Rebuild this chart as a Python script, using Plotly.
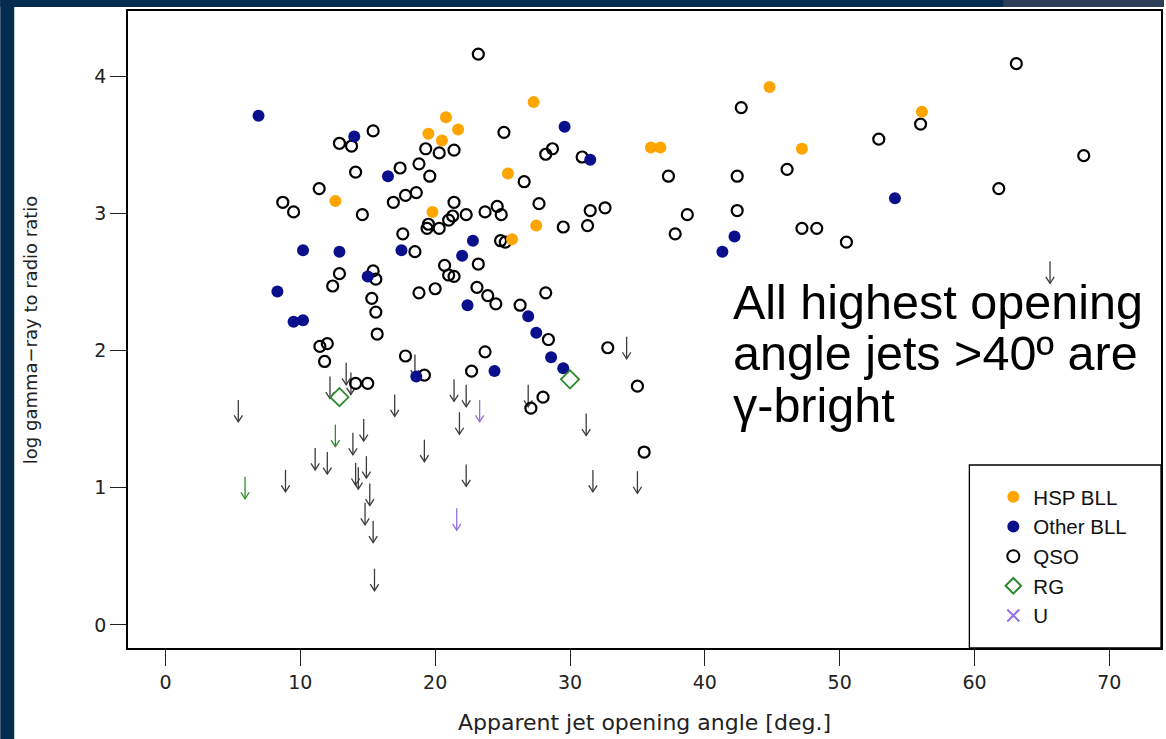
import plotly.graph_objects as go

# ---- HSP BL Lacs (filled orange) ----
hsp_x = [20.8, 19.5, 20.5, 21.7, 12.6, 19.8, 27.3, 25.4, 27.5, 25.7, 36.0, 36.7, 44.8, 47.2, 56.1]
hsp_y = [3.70, 3.58, 3.53, 3.61, 3.09, 3.01, 3.81, 3.29, 2.91, 2.81, 3.48, 3.48, 3.92, 3.47, 3.74]

# ---- other BL Lacs (filled navy) ----
bll_x = [6.9, 14.0, 16.5, 10.2, 12.9, 17.5, 22.0, 15.0, 8.3, 9.5, 10.2, 18.6, 29.6, 31.5,
         22.8, 22.4, 26.9, 27.5, 28.6, 29.5, 24.4, 41.3, 42.2, 54.1]
bll_y = [3.71, 3.56, 3.27, 2.73, 2.72, 2.73, 2.69, 2.54, 2.43, 2.21, 2.22, 1.81, 3.63, 3.39,
         2.80, 2.33, 2.25, 2.13, 1.95, 1.87, 1.85, 2.72, 2.83, 3.11]

# ---- quasars (open black circles) ----
qso_x = [15.4, 12.9, 13.8, 19.3, 20.3, 21.4, 14.1, 17.4, 18.8, 19.6, 11.4, 8.7, 9.5, 14.6,
         16.9, 17.8, 18.6, 21.4, 19.5, 19.4, 20.3, 21.0, 21.3, 17.6, 18.5, 12.9, 12.4, 15.4,
         15.6, 20.7, 21.0, 21.4, 18.8, 20.0, 15.3, 15.6, 15.7, 11.45, 12.0, 11.8, 17.8, 19.2,
         14.1, 15.0,
         23.2, 25.1, 28.2, 28.7, 30.9, 37.3, 26.6, 22.3, 23.7, 24.6, 24.9, 27.7, 29.5, 31.5,
         32.6, 31.3, 38.7, 37.8, 24.85, 25.2, 23.2, 23.1, 23.9, 24.5, 26.3, 28.2, 28.4, 32.8,
         35.0, 35.5, 23.7, 22.7, 28.0, 27.1,
         63.1, 42.7, 56.0, 52.9, 46.1, 42.4, 68.1, 61.8, 42.4, 47.2, 48.3, 50.5]
qso_y = [3.60, 3.51, 3.49, 3.47, 3.44, 3.46, 3.30, 3.33, 3.36, 3.27, 3.18, 3.08, 3.01, 2.99,
         3.08, 3.13, 3.15, 3.08, 2.92, 2.89, 2.89, 2.95, 2.98, 2.85, 2.72, 2.56, 2.47, 2.58,
         2.52, 2.62, 2.55, 2.54, 2.42, 2.45, 2.38, 2.28, 2.12, 2.03, 2.05, 1.92, 1.96, 1.82,
         1.76, 1.76,
         4.16, 3.59, 3.43, 3.47, 3.41, 3.27, 3.23, 2.99, 3.01, 3.05, 2.99, 3.07, 2.90, 3.02,
         3.04, 2.91, 2.99, 2.85, 2.80, 2.79, 2.63, 2.46, 2.40, 2.34, 2.33, 2.42, 2.08, 2.02,
         1.74, 1.26, 1.99, 1.85, 1.66, 1.58,
         4.09, 3.77, 3.65, 3.54, 3.32, 3.27, 3.42, 3.18, 3.02, 2.89, 2.89, 2.79]

# ---- radio galaxies (open green diamonds) ----
rg_x = [12.9, 30.0]
rg_y = [1.66, 1.79]

# ---- upper limits (value at the top of each arrow) ----
ul_x = [18.5, 13.4, 12.2, 13.75, 5.4, 17.0, 21.4, 22.3, 21.8, 14.7, 13.9, 19.2, 11.1, 12.0,
        14.1, 14.9, 14.3, 8.9, 15.15, 14.8, 15.4, 15.5, 26.9, 34.2, 31.2, 31.7, 35.0, 22.3, 65.6]
ul_y = [1.97, 1.91, 1.81, 1.84, 1.64, 1.68, 1.79, 1.75, 1.55, 1.50, 1.40, 1.35, 1.29, 1.26,
        1.18, 1.23, 1.15, 1.13, 1.03, 0.89, 0.76, 0.41, 1.75, 2.10, 1.54, 1.13, 1.12, 1.17, 2.65]
rg_ul_x = [12.6, 5.9]
rg_ul_y = [1.46, 1.08]
u_ul_x = [23.3, 21.6]
u_ul_y = [1.64, 0.85]

x_ticks = [0, 10, 20, 30, 40, 50, 60, 70]
y_ticks = [0, 1, 2, 3, 4]

X_RANGE = [-2.78, 73.83]
Y_RANGE = [-0.168, 4.474]
PLOT_W, PLOT_H = 1035, 637
ML, MR, MT, MB = 128, 3, 11, 91

ORANGE = "#FFA500"
NAVY = "#0A0F8C"
GREEN = "#2E8B2E"
PURPLE = "#9370DB"
ARROW_GREY = "#3c3c3c"

# pixel -> data unit conversion for drawing fixed-size arrows
ux = (X_RANGE[1] - X_RANGE[0]) / PLOT_W
uy = (Y_RANGE[1] - Y_RANGE[0]) / PLOT_H
ARROW_LEN = 22 * uy
HEAD_W = 4.2 * ux
HEAD_H = 6.5 * uy


def arrow_path(xs, ys):
    px, py = [], []
    for x, y in zip(xs, ys):
        tip = y - ARROW_LEN
        px += [x, x, None, x - HEAD_W, x, x + HEAD_W, None]
        py += [y, tip, None, tip + HEAD_H, tip, tip + HEAD_H, None]
    return px, py


fig = go.Figure()

for xs, ys, col in [(ul_x, ul_y, ARROW_GREY), (rg_ul_x, rg_ul_y, GREEN), (u_ul_x, u_ul_y, PURPLE)]:
    ax_, ay_ = arrow_path(xs, ys)
    fig.add_trace(go.Scatter(x=ax_, y=ay_, mode="lines", line=dict(color=col, width=1.3),
                             showlegend=False, hoverinfo="skip"))

fig.add_trace(go.Scatter(x=qso_x, y=qso_y, mode="markers", name="QSO", legendrank=3,
                         marker=dict(symbol="circle-open", size=11, color="black",
                                     line=dict(width=2.2, color="black"))))
fig.add_trace(go.Scatter(x=bll_x, y=bll_y, mode="markers", name="Other BLL", legendrank=2,
                         marker=dict(symbol="circle", size=12, color=NAVY, line=dict(width=0))))
fig.add_trace(go.Scatter(x=hsp_x, y=hsp_y, mode="markers", name="HSP BLL", legendrank=1,
                         marker=dict(symbol="circle", size=12, color=ORANGE, line=dict(width=0))))
fig.add_trace(go.Scatter(x=rg_x, y=rg_y, mode="markers", name="RG", legendrank=4,
                         marker=dict(symbol="diamond-open", size=14, color=GREEN,
                                     line=dict(width=1.8, color=GREEN))))
fig.add_trace(go.Scatter(x=[None], y=[None], mode="markers", name="U", legendrank=5,
                         marker=dict(symbol="x-thin-open", size=10, color=PURPLE,
                                     line=dict(width=2, color=PURPLE))))


def px_x(p):
    return (p - ML) / PLOT_W


def px_y(p):
    return (MT + PLOT_H - p) / PLOT_H


NAVY_BG = "#052b4e"
shapes = [
    # slide frame
    dict(type="rect", xref="paper", yref="paper", x0=px_x(0), x1=px_x(14), y0=px_y(739), y1=px_y(0),
         fillcolor=NAVY_BG, line_width=0, layer="above"),
    dict(type="rect", xref="paper", yref="paper", x0=px_x(0), x1=px_x(1166), y0=px_y(7), y1=px_y(0),
         fillcolor=NAVY_BG, line_width=0, layer="above"),
    dict(type="rect", xref="paper", yref="paper", x0=px_x(1005), x1=px_x(1166), y0=px_y(7), y1=px_y(0),
         fillcolor="#2d3f56", line_width=0, layer="above"),
    # legend box
    dict(type="rect", xref="paper", yref="paper", x0=px_x(971), x1=1, y0=0, y1=px_y(465),
         line=dict(color="black", width=1.3), fillcolor="rgba(0,0,0,0)", layer="above"),
]

TXT = "Liberation Sans"
annotations = [
    dict(text="Apparent jet opening angle [deg.]", xref="paper", yref="paper",
         x=px_x(646), y=px_y(722), showarrow=False, xanchor="center", yanchor="middle",
         font=dict(family="DejaVu Sans", size=22, color="#222")),
    dict(text="log gamma\u2212ray to radio ratio", xref="paper", yref="paper",
         x=px_x(30), y=px_y(330), showarrow=False, textangle=-90, xanchor="center", yanchor="middle",
         font=dict(family="DejaVu Sans", size=18, color="#222")),
]
for line, yc in [("All highest opening", 302), ("angle jets >40\u00ba are", 353), ("\u03b3-bright", 405)]:
    annotations.append(dict(text=line, xref="paper", yref="paper", x=px_x(732), y=px_y(yc),
                            showarrow=False, xanchor="left", yanchor="middle",
                            font=dict(family=TXT, size=48.5, color="black")))

axis_common = dict(showgrid=False, zeroline=False, showline=True, mirror=True,
                   linecolor="black", linewidth=1.5, ticks="outside", ticklen=16,
                   tickwidth=1.3, tickcolor="#222",
                   tickfont=dict(family="DejaVu Sans", size=19, color="#222"))

fig.update_layout(
    width=1166, height=739, autosize=False,
    margin=dict(l=ML, r=MR, t=MT, b=MB),
    paper_bgcolor="white", plot_bgcolor="white",
    xaxis=dict(range=X_RANGE, tickvals=x_ticks, **axis_common),
    yaxis=dict(range=Y_RANGE, tickvals=y_ticks, **axis_common),
    legend=dict(x=px_x(995), y=px_y(477), xanchor="left", yanchor="top",
                bgcolor="rgba(0,0,0,0)", borderwidth=0, itemsizing="constant",
                font=dict(family=TXT, size=20.5, color="#111"), tracegroupgap=0),
    shapes=shapes, annotations=annotations,
)

fig.write_html("out.html")
